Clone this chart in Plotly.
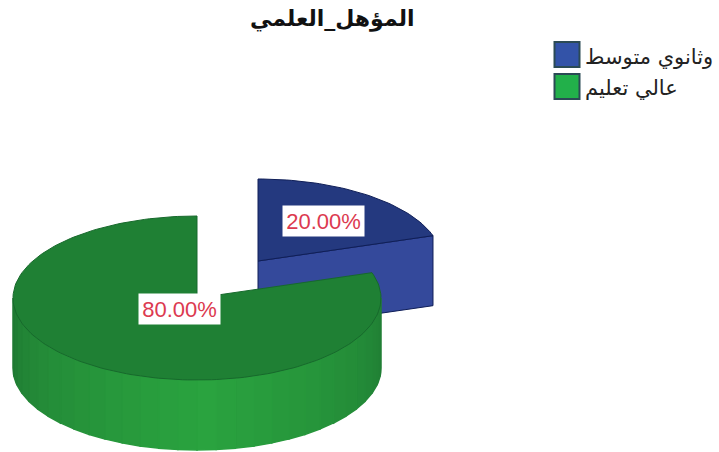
import math
import plotly.graph_objects as go

# Chart content
title = "المؤهل_العلمي"
categories = ["وثانوي متوسط", "عالي تعليم"]
shares = [20.0, 80.0]

# Pie geometry, in page pixels
RX, RY, DEPTH = 184, 82, 70
CENTERS = [(258, 261), (197, 298)]
LABEL_RADIUS = [0.61, 0.16]

TOP = ["#24397f", "#1f8034"]
FACE = "#34499b"
EDGE = ["#101f58", "#17692c"]
SWATCH = ["#3353a8", "#22b04a"]
LABEL_RED = "#dc3a50"

fig = go.Figure()


def rim(center, deg, drop=0):
    a = math.radians(deg)
    return center[0] + RX * math.sin(a), center[1] - RY * math.cos(a) + drop


def polygon(points, fill, line=None, width=1):
    xs = [p[0] for p in points] + [points[0][0]]
    ys = [p[1] for p in points] + [points[0][1]]
    fig.add_trace(go.Scatter(
        x=xs, y=ys, mode="lines", fill="toself", fillcolor=fill,
        line=dict(color=line or fill, width=width),
        hoverinfo="skip", showlegend=False,
    ))


def arc(center, start, end, drop=0, step=1.5):
    n = max(2, int(abs(end - start) / step) + 1)
    return [rim(center, start + (end - start) * i / (n - 1), drop) for i in range(n)]


def lerp_hex(c0, c1, t):
    a = [int(c0[i:i + 2], 16) for i in (1, 3, 5)]
    b = [int(c1[i:i + 2], 16) for i in (1, 3, 5)]
    return "#" + "".join(f"{round(x + (y - x) * t):02x}" for x, y in zip(a, b))


sweep = [s / sum(shares) * 360 for s in shares]

# Smaller slice: cut face first, then its top
blue_c = CENTERS[0]
blue_end = sweep[0]
tip = rim(blue_c, blue_end)
polygon([blue_c, tip, (tip[0], tip[1] + DEPTH), (blue_c[0], blue_c[1] + DEPTH)], FACE, EDGE[0])
polygon([blue_c] + arc(blue_c, 0, blue_end), TOP[0], EDGE[0])

# Larger slice: outer wall in narrow shaded bands, then its top
green_c = CENTERS[1]
band = 6
for deg in range(90, 270, band):
    t = max(0.0, 1 - abs(deg + band / 2 - 178) / 88)
    color = lerp_hex("#1f7a33", "#2aa33f", t ** 0.8)
    pts = arc(green_c, deg, deg + band) + arc(green_c, deg + band, deg, DEPTH)
    polygon(pts, color, color, 1.5)
polygon([green_c] + arc(green_c, sweep[0], 360), TOP[1], EDGE[1])

# Percentage labels placed along each slice's middle angle
start = 0
for i, s in enumerate(sweep):
    mid = start + s / 2
    a = math.radians(mid)
    fig.add_annotation(
        x=CENTERS[i][0] + LABEL_RADIUS[i] * RX * math.sin(a),
        y=CENTERS[i][1] - LABEL_RADIUS[i] * RY * math.cos(a),
        text=f"{shares[i]:.2f}%", showarrow=False,
        font=dict(family="Liberation Sans", size=22, color=LABEL_RED),
        bgcolor="white", width=81, height=30, borderpad=0,
    )
    start += s

# Legend entries
legend_y = [54.5, 86.5]
for name, y, color in zip(categories, legend_y, SWATCH):
    fig.add_trace(go.Scatter(
        x=[567], y=[y], mode="markers",
        marker=dict(symbol="square", size=25, color=color,
                    line=dict(color="#2b4a55", width=2)),
        hoverinfo="skip", showlegend=False,
    ))
    fig.add_annotation(
        x=583, y=y + 2, text=name, showarrow=False, xanchor="left",
        font=dict(family="DejaVu Sans", size=21, color="#222222"),
    )

fig.add_annotation(
    x=332, y=19, text=f"<b>{title}</b>", showarrow=False,
    font=dict(family="DejaVu Sans", size=22, color="#111111"),
)

fig.update_layout(
    width=719, height=452, margin=dict(l=0, r=0, t=0, b=0),
    paper_bgcolor="white", plot_bgcolor="white", showlegend=False,
    xaxis=dict(range=[0, 719], visible=False, fixedrange=True),
    yaxis=dict(range=[452, 0], visible=False, fixedrange=True),
)

fig.write_html("out.html")
